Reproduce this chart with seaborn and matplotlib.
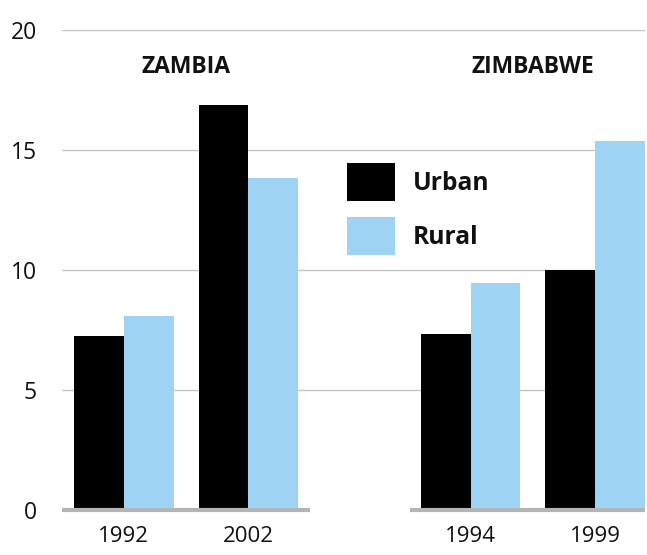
import pandas as pd
import matplotlib.pyplot as plt
import seaborn as sns

# data
countries = ['ZAMBIA', 'ZIMBABWE']
years = [['1992', '2002'], ['1994', '1999']]
urban = [[7.25, 16.85], [7.35, 10.0]]
rural = [[8.1, 13.85], [9.45, 15.35]]

sns.set_theme(style='white')
plt.rcParams['font.family'] = ['Open Sans', 'DejaVu Sans']

# offset of the second country group (in bar-group units)
offset = 2.784

rows = []
for ci, country in enumerate(countries):
    for yi, year in enumerate(years[ci]):
        pos = yi + ci * offset
        rows.append({'pos': pos, 'year': year, 'country': country, 'Area': 'Urban', 'value': urban[ci][yi]})
        rows.append({'pos': pos, 'year': year, 'country': country, 'Area': 'Rural', 'value': rural[ci][yi]})
df = pd.DataFrame(rows)

fig = plt.figure(figsize=(6.47, 5.55), dpi=100)
ax = fig.add_axes([0.0958, 0.0802, 0.9011, 0.8663])

sns.barplot(data=df, x='pos', y='value', hue='Area', native_scale=True,
            palette={'Urban': '#000000', 'Rural': '#9fd3f4'}, saturation=1,
            width=0.8, linewidth=0, ax=ax)

xmax = 1 + offset + 0.4
ax.set_ylim(0, 20)
ax.set_xlim(-0.496, xmax)
ax.set_yticks([0, 5, 10, 15, 20])
ax.set_yticklabels(['0', '5', '10', '15', '20'])
ax.set_axisbelow(True)
ax.yaxis.grid(True, color='#c4c4c4', lw=1)
ax.get_ygridlines()[0].set_visible(False)

ticks = df.drop_duplicates('pos')
ax.set_xticks(ticks['pos'])
ax.set_xticklabels(ticks['year'])
ax.tick_params(axis='x', length=0, pad=11, labelsize=16, labelcolor='#111111')
ax.tick_params(axis='y', length=0, pad=18, labelsize=16.5, labelcolor='#111111')
ax.set_xlabel('')
ax.set_ylabel('')
for s in ax.spines.values():
    s.set_visible(False)

# gray baseline, broken between the two countries
ax.hlines(0, -0.496, 1.496, color='#b4b4b4', lw=3, clip_on=False, zorder=1)
ax.hlines(0, offset - 0.488, xmax, color='#b4b4b4', lw=3, clip_on=False, zorder=1)

# country titles
for ci, country in enumerate(countries):
    ax.text(0.5 + ci * offset, 18.45, country, ha='center', va='center',
            fontsize=16.5, fontweight='bold', color='#111111')

sns.move_legend(ax, 'upper left', bbox_to_anchor=(347 / 647, 1 - 163 / 555),
                bbox_transform=fig.transFigure, frameon=False, title=None,
                prop={'weight': 'bold', 'size': 17.7}, handlelength=1.95,
                handleheight=2.0, labelspacing=0.65, handletextpad=0.72,
                borderpad=0, borderaxespad=0)
for t in ax.get_legend().get_texts():
    t.set_color('#111111')

fig.savefig('out.png', dpi=100)
